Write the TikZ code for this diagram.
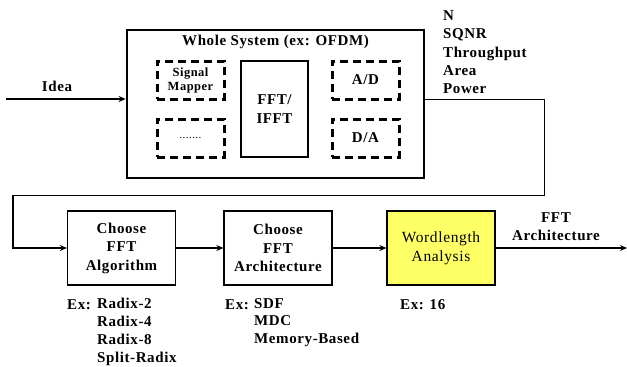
\documentclass[tikz,border=0pt]{standalone}
\usepackage{fontspec}
\setmainfont{Liberation Serif}[LetterSpace=4]
\usetikzlibrary{arrows.meta}
\definecolor{wlyellow}{RGB}{255,255,102}
\begin{document}
\begin{tikzpicture}[x=1pt,y=-1pt,
  lbl/.style={font=\fontsize{15}{18}\selectfont\bfseries, inner sep=0pt},
  sysbox/.style={draw, line width=2.8pt},
  dashbox/.style={draw, line width=3pt, dash pattern=on 8pt off 5pt, minimum width=67pt, minimum height=38pt, inner sep=0pt},
  corebox/.style={draw, line width=2pt, minimum width=67pt, minimum height=96pt, inner sep=0pt, align=center},
  stage/.style={draw, line width=1.3pt, minimum width=108pt, minimum height=74pt, inner sep=0pt, align=center,
    font=\fontsize{15}{18.5}\selectfont\bfseries},
  flow/.style={line width=1.8pt, -{Stealth[length=7pt,width=6pt]}},
  thin/.style={line width=1pt},
]
\useasboundingbox (0,0) rectangle (627,367);

% whole system block with its parts
\node[sysbox, minimum width=297pt, minimum height=148pt, inner sep=0pt] (whole) at (275.5,104) {};
\node[lbl] (title) at (275.5,42) {Whole System (ex: OFDM)};
\node[dashbox, align=center, font=\fontsize{12.5}{14}\selectfont\bfseries] (mapper) at (190.5,80) {Signal\\Mapper};
\node[dashbox, font=\fontsize{11}{13}\selectfont] (dots) at (190.5,138) {\raisebox{-2pt}{.......}};
\node[corebox, font=\fontsize{15}{18.5}\selectfont\bfseries] (fft) at (274.5,109) {FFT/\\IFFT};
\node[dashbox, font=\fontsize{15}{18}\selectfont\bfseries] (ad) at (365.5,80) {A/D};
\node[dashbox, font=\fontsize{15}{18}\selectfont\bfseries] (da) at (365.5,138) {D/A};

% design stages
\node[stage] (algo) at (121.5,248) {Choose\\FFT\\Algorithm};
\node[stage] (arch) at (278,248) {Choose\\FFT\\Architecture};
\node[stage, fill=wlyellow, font=\fontsize{15.5}{19}\selectfont] (word) at (441,248) {Wordlength\\Analysis};

% input and output
\coordinate (in) at (6,99);
\coordinate (turnA) at (544,195);
\coordinate (turnB) at (13,195);
\coordinate (out) at (627,248);
\node[lbl, anchor=south] (idea) at (57,92) {Idea};
\node[lbl, anchor=north west, align=left, font=\fontsize{15}{18.3}\selectfont\bfseries] (specs) at (443,10.5) {N\\SQNR\\Throughput\\Area\\Power};
\node[lbl, align=center] (outlbl) at (556,227) {FFT\\Architecture};

% connectors
\draw[flow] (in) -- (in -| whole.west);
\draw[thin] (in -| whole.east) -| (turnA) -- (turnB);
\draw[flow, line width=1.5pt] (turnB) |- (algo.west);
\draw[flow] (algo) -- (arch);
\draw[flow] (arch) -- (word);
\draw[flow] (word) -- (out);

% examples under the stages
\node[lbl, anchor=west] (exA) at (67,305) {Ex:};
\node[lbl, anchor=north west, align=left, font=\fontsize{15}{18}\selectfont\bfseries] (algos) at (97,298) {Radix-2\\Radix-4\\Radix-8\\Split-Radix};
\node[lbl, anchor=west] (exB) at (225,305) {Ex:};
\node[lbl, anchor=north west, align=left, font=\fontsize{15}{17.5}\selectfont\bfseries] (archs) at (254,298) {SDF\\MDC\\Memory-Based};
\node[lbl, anchor=west] (exC) at (400,305) {Ex: 16};
\end{tikzpicture}
\end{document}
